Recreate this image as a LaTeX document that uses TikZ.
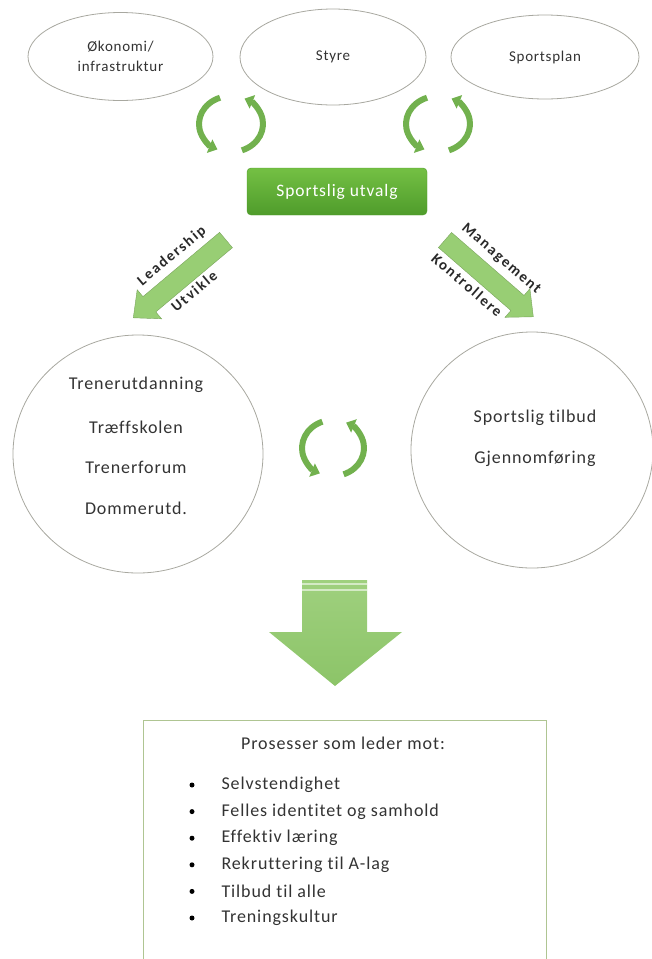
\documentclass[tikz,border=0pt]{standalone}
\usepackage{fontspec}
\setmainfont{Carlito}[LetterSpace=5,Ligatures=NoCommon]
\newfontfamily\diagfont{Carlito}[LetterSpace=12,Ligatures=NoCommon]
\usetikzlibrary{arrows.meta,shapes.geometric}
\definecolor{txt}{HTML}{333333}
\definecolor{ellline}{HTML}{A8A8A0}
\definecolor{cycg}{HTML}{72B14E}
\definecolor{boxtop}{HTML}{74C044}
\definecolor{boxbot}{HTML}{4F9C2B}
\definecolor{arrg}{HTML}{98CE74}
\definecolor{bigtop}{HTML}{9FD07E}
\definecolor{bigbot}{HTML}{8CC468}
\definecolor{boxline}{HTML}{AFC592}
\tikzset{
  oval/.style={ellipse, draw=ellline, line width=0.8pt, fill=white, text=txt},
  ovaltxt/.style={text=txt, align=center, font=\fontsize{15}{20}\selectfont},
  ringtxt/.style={text=txt, font=\fontsize{18}{21}\selectfont},
  cycarc/.style={draw=cycg, line width=6pt, -{Triangle[width=14pt,length=8.5pt]}},
  diaglab/.style={text=txt!80!black, inner sep=0pt, font=\diagfont\bfseries\fontsize{15}{17}\selectfont},
  listtxt/.style={text=txt, font=\fontsize{18}{21}\selectfont, anchor=west},
  bul/.style={circle, fill=black, inner sep=0pt, minimum size=5pt},
  slant/.style={fill=arrg, draw=arrg!80!black, line width=0.4pt}
}
\begin{document}
\begin{tikzpicture}[x=1pt,y=1pt]
\useasboundingbox (0,0) rectangle (651,-959);
% top ellipses
\node[oval, minimum width=185pt, minimum height=88pt] (oko) at (120.5,-56.5) {};
\node[oval, minimum width=186pt, minimum height=96pt] (styre) at (333,-57) {};
\node[oval, minimum width=188pt, minimum height=84pt] (sport) at (545,-57) {};
\node[ovaltxt] (okot) at (oko) {Økonomi/\\infrastruktur};
\node[ovaltxt] (styt) at (styre) {Styre};
\node[ovaltxt] (spt) at (sport) {Sportsplan};
% top cycles
\coordinate (c1) at (231,-124);
\coordinate (c2) at (438,-124);
\foreach \c in {c1,c2}{
  \draw[cycarc] ([shift={(110:32 and 28)}]\c) arc[start angle=110, end angle=245, x radius=32, y radius=28];
  \draw[cycarc] ([shift={(-70:32 and 28)}]\c) arc[start angle=-70, end angle=65, x radius=32, y radius=28];
}
% green box
\node[rounded corners=4pt, top color=boxtop, bottom color=boxbot, draw=boxbot, minimum width=180pt, minimum height=47pt, text=white, font=\fontsize{17.5}{20}\selectfont] (utv) at (337,-191.5) {Sportslig utvalg};
% diagonal arrows
\begin{scope}[shift={(226,-240)}, rotate=220]
  \path[slant] (0,10)--(100,10)--(100,19)--(121,0)--(100,-19)--(100,-10)--(0,-10)--cycle;
\end{scope}
\begin{scope}[shift={(445,-240)}, rotate=-41]
  \path[slant] (0,10)--(96,10)--(96,19)--(117,0)--(96,-19)--(96,-10)--(0,-10)--cycle;
\end{scope}
\node[diaglab, rotate=40] (lead) at (172,-256) {Leadership};
\node[diaglab, rotate=40] (utvk) at (194,-291) {Utvikle};
\node[diaglab, rotate=-41] (mgmt) at (501,-259) {Management};
\node[diaglab, rotate=-41] (kont) at (467,-285) {Kontrollere};
% circles
\node[ellipse, draw=ellline, line width=0.8pt, minimum width=250pt, minimum height=238pt] (lc) at (138,-454) {};
\node[ellipse, draw=ellline, line width=0.8pt, minimum width=242pt, minimum height=236pt] (rc) at (532,-450) {};
\node[ringtxt] (t1) at (136,-385) {Trenerutdanning};
\node[ringtxt] (t2) at (136,-427) {Træffskolen};
\node[ringtxt] (t3) at (136,-467) {Trenerforum};
\node[ringtxt] (t4) at (136,-508) {Dommerutd.};
\node[ringtxt] (t5) at (535,-418) {Sportslig tilbud};
\node[ringtxt] (t6) at (535,-459) {Gjennomføring};
% middle cycle
\coordinate (c3) at (333,-448);
\draw[cycarc] ([shift={(110:31 and 28)}]c3) arc[start angle=110, end angle=245, x radius=31, y radius=28];
\draw[cycarc] ([shift={(-70:31 and 28)}]c3) arc[start angle=-70, end angle=65, x radius=31, y radius=28];
% big down arrow
\shade[top color=bigtop, bottom color=bigbot] (302,-580) -- (367,-580) -- (367,-632) -- (402,-632) -- (335,-686) -- (269,-632) -- (302,-632) -- cycle;
\draw[white!55!bigtop, line width=1.2pt] (302,-584) -- (367,-584);
\draw[white!55!bigtop, line width=1.2pt] (302,-590) -- (367,-590);
% bottom box
\draw[boxline, line width=1pt] (143,-962) -- (143,-720) -- (546,-720) -- (546,-962);
\node[text=txt, font=\fontsize{18}{21}\selectfont] (title) at (343,-743) {Prosesser som leder mot:};
\foreach \t [count=\i] in {Selvstendighet, Felles identitet og samhold, Effektiv læring, Rekruttering til A-lag, Tilbud til alle, Treningskultur}{
  \node[bul] (b\i) at (192,-758.4-26.6*\i) {};
  \node[listtxt] (l\i) at (218,-758.4-26.6*\i) {\t};
}
\end{tikzpicture}
\end{document}
